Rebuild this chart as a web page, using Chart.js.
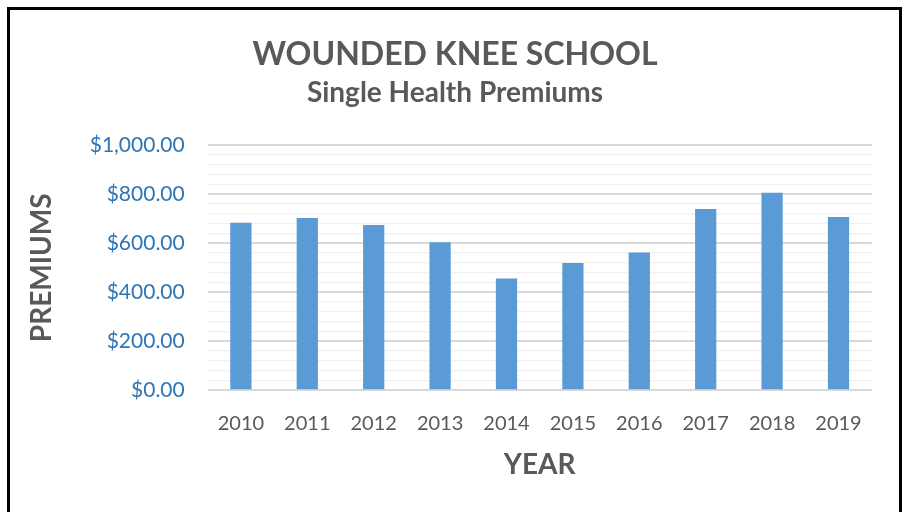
<!DOCTYPE html>
<html>
<head>
<meta charset="utf-8">
<script src="https://cdn.jsdelivr.net/npm/chart.js@4/dist/chart.umd.min.js"></script>
<style>
  html, body { margin: 0; padding: 0; background: #fff; }
  #wrap { position: relative; width: 907px; height: 512px; overflow: hidden; }
  #frame {
    position: absolute; left: 7px; top: 7px; width: 895px; height: 530px;
    box-sizing: border-box; border: 3px solid #000; pointer-events: none;
  }
  canvas { position: absolute; left: 0; top: 0; }
</style>
</head>
<body>
<div id="wrap">
  <canvas id="chart" width="907" height="512"></canvas>
  <div id="frame"></div>
</div>
<script>
const years = ["2010", "2011", "2012", "2013", "2014", "2015", "2016", "2017", "2018", "2019"];
const premiums = [684, 703, 675, 604, 456, 520, 562, 740, 806, 707];
const yTickValues = [0, 200, 400, 600, 800, 1000];
const yTickLabels = ["$0.00", "$200.00", "$400.00", "$600.00", "$800.00", "$1,000.00"];

const grey = "#595959";
const font = "Lato";

new Chart(document.getElementById("chart"), {
  type: "bar",
  data: {
    labels: years,
    datasets: [{
      data: premiums,
      backgroundColor: "#5b9bd5",
      borderWidth: 0,
      categoryPercentage: 1,
      barPercentage: 0.32
    }]
  },
  options: {
    responsive: false,
    animation: false,
    // left/right kept close so the titles sit centred on the frame
    layout: { padding: { left: 38.3, right: 35.3, top: 0, bottom: 0 } },
    plugins: {
      legend: { display: false },
      tooltip: { enabled: false },
      title: {
        display: true,
        text: "WOUNDED KNEE SCHOOL",
        color: grey,
        font: { family: font, size: 32, weight: "bold" },
        padding: { top: 35.3, bottom: 0 }
      },
      subtitle: {
        display: true,
        text: "Single Health Premiums",
        color: grey,
        font: { family: font, size: 28, weight: "bold" },
        padding: { top: 2.5, bottom: 35.5 }
      }
    },
    scales: {
      x: {
        grid: { display: false, drawTicks: false },
        border: { display: false },
        ticks: { color: grey, font: { family: font, size: 20 }, padding: 21 },
        title: {
          display: true,
          text: "YEAR",
          color: grey,
          font: { family: font, size: 28, weight: "bold" },
          padding: { top: 0, bottom: 30.2 }
        },
        afterFit: (scale) => { scale.height = 121.7; }
      },
      y: {
        min: 0,
        max: 1000,
        grid: {
          drawTicks: false,
          color: (ctx) => ctx.tick && ctx.tick.value % 200 === 0 ? "#d9d9d9" : "#f0f0f0",
          lineWidth: (ctx) => ctx.tick && ctx.tick.value % 200 === 0 ? 2 : 1.3
        },
        border: { display: false },
        ticks: {
          stepSize: 40,
          autoSkip: false,
          color: "#2e75b6",
          font: { family: font, size: 21 },
          padding: 23,
          callback: (value) => {
            const i = yTickValues.indexOf(value);
            return i >= 0 ? yTickLabels[i] : "";
          }
        },
        title: {
          display: true,
          text: "PREMIUMS",
          color: grey,
          font: { family: font, size: 28, weight: "bold" },
          padding: { top: -13, bottom: 0 }
        },
        afterFit: (scale) => { scale.width = 169.4; }
      }
    }
  }
});
</script>
</body>
</html>
